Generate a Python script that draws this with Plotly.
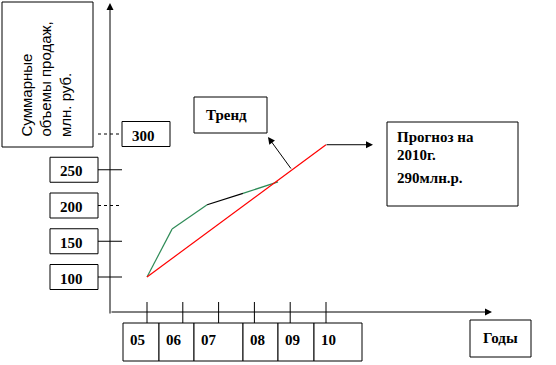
import plotly.graph_objects as go

# ---------------- data ----------------
years_actual = [5.0, 5.7, 6.68, 7.68, 8.66]
sales_actual = [100, 167, 201, 217, 233]
segment_colors = ["#2e8b57", "#2e8b57", "#000000", "#2e8b57"]

trend_years = [5, 10]
trend_sales = [100, 285]

y_tick_values = [100, 150, 200, 250, 300]
y_tick_labels = ["100", "150", "200", "250", "300"]

x_tick_values = [5, 6, 7, 8, 9, 10]
x_tick_labels = ["05", "06", "07", "08", "09", "10"]

y_title_lines = ["Суммарные", "объемы продаж,", "млн. руб."]
x_title = "Годы"
trend_label = "Тренд"
forecast_lines = ["Прогноз на", "2010г.", "290млн.р."]

# ---------------- layout helpers ----------------
W, H = 556, 365
PX_PER_YEAR = 35.8
YEAR0_PX = 147
PX_PER_UNIT = 0.715
VAL0_PX = 277

x_range = [5 - YEAR0_PX / PX_PER_YEAR, 5 + (W - YEAR0_PX) / PX_PER_YEAR]
y_range = [100 - (H - VAL0_PX) / PX_PER_UNIT, 100 + VAL0_PX / PX_PER_UNIT]


def px(x):
    return x / W


def py(y):
    return 1 - y / H


def yval_px(v):
    return VAL0_PX - (v - 100) * PX_PER_UNIT


def year_px(t):
    return YEAR0_PX + (t - 5) * PX_PER_YEAR


SERIF = "Liberation Serif"
SANS = "Liberation Sans"
FS = 15

fig = go.Figure()

# actual sales line, segment by segment
for i in range(len(years_actual) - 1):
    fig.add_trace(go.Scatter(
        x=years_actual[i:i + 2], y=sales_actual[i:i + 2], mode="lines",
        line=dict(color=segment_colors[i], width=1.2), showlegend=False,
        hoverinfo="skip"))

# trend line
fig.add_trace(go.Scatter(
    x=trend_years, y=trend_sales, mode="lines",
    line=dict(color="#ff0000", width=1.2), showlegend=False, hoverinfo="skip"))

shapes = []
annotations = []


def box(x0, y0, x1, y1, dash="solid"):
    shapes.append(dict(type="rect", xref="paper", yref="paper",
                       x0=px(x0), x1=px(x1), y0=py(y1), y1=py(y0),
                       line=dict(color="black", width=1, dash=dash),
                       fillcolor="white", layer="below"))


def text(x, y, s, size=FS, family=SERIF, bold=True, xanchor="left",
         yanchor="middle", angle=0, align="left"):
    annotations.append(dict(xref="paper", yref="paper", x=px(x), y=py(y),
                            text=f"<b>{s}</b>" if bold else s,
                            showarrow=False, xanchor=xanchor, yanchor=yanchor,
                            textangle=angle, align=align,
                            font=dict(family=family, size=size, color="black")))


def arrow(tip_x, tip_y, ax, ay):
    annotations.append(dict(xref="paper", yref="paper", x=px(tip_x), y=py(tip_y),
                            ax=ax, ay=ay, axref="pixel", ayref="pixel", text="",
                            showarrow=True, arrowhead=2, arrowsize=1.4,
                            arrowwidth=1, arrowcolor="black", standoff=0))


# y-axis title box
box(2, 2, 93, 147)
for xc, line in zip([26, 45, 65], y_title_lines):
    text(xc, 139, line, size=15, family=SANS, bold=False,
         xanchor="center", yanchor="bottom", angle=-90)

# axes
arrow(110, 3, 0, 312)
arrow(492, 312, -382, 0)

# y ticks and labels
for v, lab in zip(y_tick_values, y_tick_labels):
    yc = yval_px(v)
    shapes.append(dict(type="line", xref="paper", yref="paper",
                       x0=px(98), x1=px(122), y0=py(yc), y1=py(yc),
                       line=dict(color="black", width=1,
                                 dash="dot" if v in (200, 300) else "solid")))
    if v == 300:
        bx0, bx1 = 122, 170
    else:
        bx0, bx1 = 50, 98
    box(bx0, yc - 12.5, bx1, yc + 12.5)
    text((bx0 + bx1) / 2 - 3, yc + 1.5, lab, xanchor="center")

# x ticks and labels
x_box_edges = [123, 159, 194, 243, 278, 314, 362]
for i, (t, lab) in enumerate(zip(x_tick_values, x_tick_labels)):
    xc = year_px(t)
    shapes.append(dict(type="line", xref="paper", yref="paper",
                       x0=px(xc), x1=px(xc), y0=py(302), y1=py(323),
                       line=dict(color="black", width=1)))
    box(x_box_edges[i], 323, x_box_edges[i + 1], 361)
    text(x_box_edges[i] + 5, 340, lab)

# x title box
box(470, 320, 531, 357)
text(500, 338, x_title, xanchor="center")

# trend box + arrow
box(194, 97, 267, 133)
text(204, 115, trend_label)
arrow(268, 137, 24, 33)

# forecast box + arrow
box(387, 122, 518, 206)
text(395, 137, forecast_lines[0])
text(395, 155, forecast_lines[1])
text(395, 178, forecast_lines[2])
annotations.append(dict(xref="paper", yref="y", x=px(373), y=trend_sales[-1],
                        ax=-48, ay=0, axref="pixel", ayref="pixel", text="",
                        showarrow=True, arrowhead=2, arrowsize=1.4,
                        arrowwidth=1, arrowcolor="black", standoff=0))

fig.update_layout(
    width=W, height=H, margin=dict(l=0, r=0, t=0, b=0),
    paper_bgcolor="white", plot_bgcolor="white",
    xaxis=dict(range=x_range, visible=False, fixedrange=True),
    yaxis=dict(range=y_range, visible=False, fixedrange=True),
    shapes=shapes, annotations=annotations, showlegend=False)

fig.write_html("out.html", config={"displayModeBar": False},
               post_script="document.body.style.margin='0';"
                           "document.body.style.overflow='hidden';")
